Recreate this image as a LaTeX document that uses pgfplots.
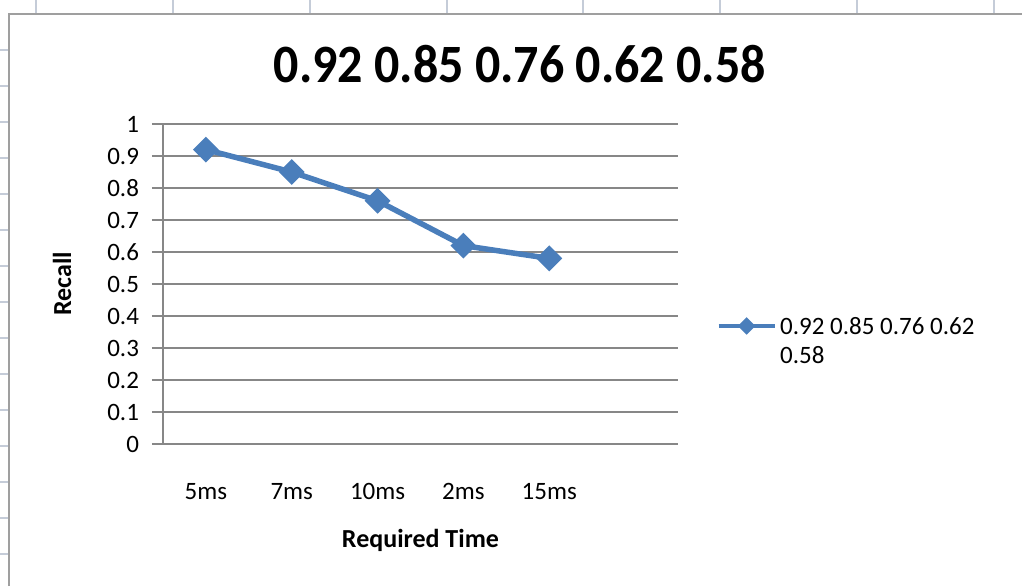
\documentclass[border=0pt]{standalone}
\usepackage{fontspec}
\setmainfont{Carlito}
\usepackage{pgfplots}
\pgfplotsset{compat=1.18}
\definecolor{xlblue}{HTML}{4A7EBB}
\definecolor{xlgrid}{HTML}{878787}
\definecolor{cellline}{HTML}{C5CCD8}
\begin{document}
\begin{tikzpicture}
\path[use as bounding box] (0pt,0pt) rectangle (511pt,293pt);
% spreadsheet cell marks and chart frame
\foreach \x in {18,86.5,155,223.5,291.5,360,428.5,497}
  \draw[cellline, line width=0.8pt] (\x pt,286pt) -- (\x pt,293pt);
\foreach \y in {16,34,52,70,88,106,124,142,160,178,196,214,232,250,268}
  \draw[cellline, line width=0.8pt] (0pt,\y pt) -- (4pt,\y pt);
\draw[gray!75, line width=1pt] (4.5pt,0pt) -- (4.5pt,286pt) -- (511pt,286pt);
\begin{axis}[
  at={(81.5pt,71pt)}, anchor=south west,
  scale only axis, width=257.5pt, height=160pt,
  xmin=-0.5, xmax=5.5, ymin=0, ymax=1,
  xtick={0,1,2,3,4},
  xticklabels={5ms,7ms,10ms,2ms,15ms},
  ytick={0,0.1,0.2,0.3,0.4,0.5,0.6,0.7,0.8,0.9,1},
  yticklabels={0,0.1,0.2,0.3,0.4,0.5,0.6,0.7,0.8,0.9,1},
  axis x line*=bottom, axis y line*=left,
  axis line style={-, xlgrid, line width=1.2pt},
  ymajorgrids, grid style={xlgrid, line width=1.2pt},
  x tick style={draw=none},
  y tick style={xlgrid, line width=1.2pt},
  tick align=outside, major tick length=5.5pt,
  ticklabel style={font=\fontsize{12.5}{14}\selectfont},
  xticklabel style={yshift=-10.5pt},
  yticklabel style={xshift=-3pt},
  title={0.92 0.85 0.76 0.62 0.58},
  title style={at={(axis description cs:0.693,1.15)}, anchor=center,
    font=\fontsize{25}{30}\bfseries, yscale=1.08},
  xlabel={Required Time},
  xlabel style={at={(axis description cs:0.5,-0.3)}, anchor=center,
    font=\fontsize{13}{15}\bfseries},
  ylabel={Recall},
  ylabel style={at={(axis description cs:-0.196,0.5)}, anchor=center,
    font=\fontsize{13}{15}\bfseries},
  legend style={at={(axis description cs:1.075,0.419)}, anchor=north west,
    draw=none, fill=none, inner sep=0pt,
    font=\fontsize{12.5}{14.5}\selectfont},
  legend cell align=left,
  legend image code/.code={\draw[mark repeat=2,mark phase=2,#1,line width=1.6pt,mark size=2.3pt]
    plot coordinates {(0pt,0pt) (14pt,0pt) (28pt,0pt)};},
]
\addplot[xlblue, line width=2.75pt, mark=square*, mark size=3.2pt,
  mark options={rotate=45, solid}]
  coordinates {(0,0.92) (1,0.85) (2,0.76) (3,0.62) (4,0.58)};
\legend{\begin{tabular}[t]{@{}l@{}}0.92 0.85 0.76 0.62\\0.58\end{tabular}}
\end{axis}
\end{tikzpicture}
\end{document}
